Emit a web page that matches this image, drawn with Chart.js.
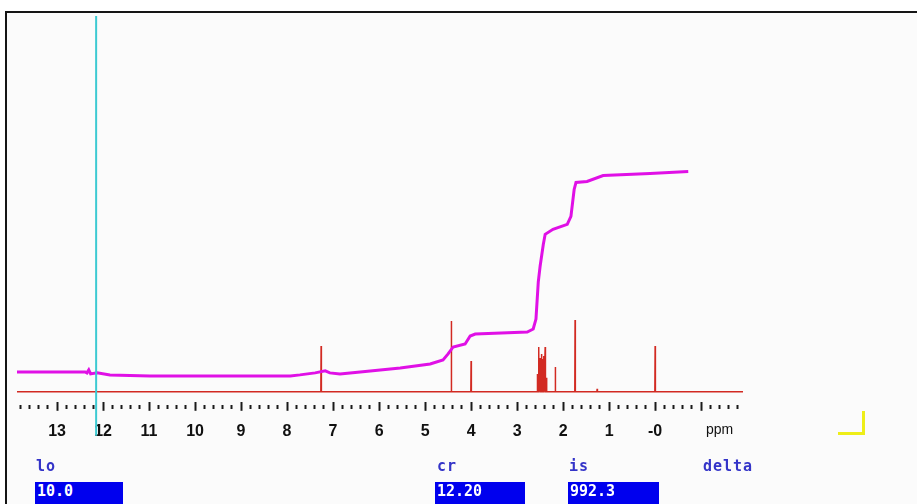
<!DOCTYPE html>
<html lang="en">

<head>
  <meta charset="UTF-8">
  <title>1H NMR spectrum</title>
  <style>
    body {
      margin: 0;
      background: #ffffff;
      width: 917px;
      height: 504px;
      overflow: hidden;
      position: relative;
      font-family: "DejaVu Sans Mono", monospace;
    }

    .frame {
      position: absolute;
      left: 5px;
      top: 11px;
      width: 930px;
      height: 510px;
      border-top: 2px solid #151515;
      border-left: 2px solid #151515;
      background: #fbfbfb;
    }

    #spectrum {
      position: absolute;
      left: 0;
      top: 0;
    }

    .param {
      position: absolute;
      top: 457px;
      color: #3434c8;
      font-weight: bold;
      font-size: 15px;
      letter-spacing: 1px;
    }

    .field {
      position: absolute;
      top: 482px;
      height: 22px;
      background: #0000ee;
      color: #ffffff;
      font-weight: bold;
      font-size: 15px;
      line-height: 19px;
      padding-left: 2px;
      box-sizing: border-box;
    }

    .corner {
      position: absolute;
      left: 838px;
      top: 411px;
      width: 24px;
      height: 21px;
      border-right: 3px solid #eeee18;
      border-bottom: 3px solid #eeee18;
    }
  </style>
  <script src="https://cdn.jsdelivr.net/npm/chart.js"></script>
</head>

<body>
  <div class="frame"></div>
  <canvas id="spectrum" width="917" height="504"></canvas>

  <div class="corner"></div>

  <div class="param" style="left: 36px;">lo</div>
  <div class="field" style="left: 35px; width: 88px;">10.0</div>
  <div class="param" style="left: 437px;">cr</div>
  <div class="field" style="left: 435px; width: 90px;">12.20</div>
  <div class="param" style="left: 569px;">is</div>
  <div class="field" style="left: 568px; width: 91px;">992.3</div>
  <div class="param" style="left: 703px;">delta</div>

  <script>
    // spectral window (ppm)
    const ppmMax = 13.87;
    const ppmMin = -1.91;

    // peak positions (ppm) and heights (arbitrary units)
    const peakShifts = [7.26, 4.43, 4.00, 2.56, 2.53, 2.50, 2.47, 2.45, 2.42, 2.39, 2.36, 2.17, 1.74, 1.26, 0.00];
    const peakHeights = [46, 71, 31, 18, 45, 34, 38, 33, 36, 45, 14, 25, 72, 3, 46];

    // integral trace
    const integralShifts = [13.87, 12.39, 12.35, 12.31, 12.27, 12.13, 11.85, 10.98, 9.46, 7.93, 7.72, 7.39, 7.17, 7.07,
      6.85, 6.41, 5.54, 4.89, 4.61, 4.50, 4.39, 4.13, 4.02, 3.91, 2.78, 2.65, 2.59, 2.54, 2.50, 2.43, 2.39, 2.22, 1.91,
      1.83, 1.76, 1.72, 1.48, 1.13, 0.11, -0.72];
    const integralValues = [20, 20, 19, 22, 18, 19, 17, 16, 16, 16, 17, 19, 21, 19,
      18, 20, 24, 28, 32, 38, 45, 48, 56, 58, 60, 63, 73, 110, 126, 148, 158, 163, 168,
      176, 203, 210, 211, 217, 219, 221];

    // cursor line
    const cursorShift = 12.15;

    // axis labels: integer ppm from 13 down to 0, unit text after them
    const labelledMax = 13;
    const labelledMin = 0;
    const axisUnit = 'ppm';
    const unitPosition = -1.4;

    const isWhole = v => Math.abs(v - Math.round(v)) < 1e-6;

    // build stick spectrum: baseline with a narrow line for each peak
    const peaks = peakShifts.map((p, i) => ({ p, h: peakHeights[i] })).sort((a, b) => b.p - a.p);
    const spectrumData = [{ x: ppmMax, y: 0 }];
    peaks.forEach(({ p, h }) => {
      spectrumData.push({ x: p + 0.006, y: 0 }, { x: p, y: h }, { x: p - 0.006, y: 0 });
    });
    spectrumData.push({ x: ppmMin, y: 0 });

    const integralData = integralShifts.map((x, i) => ({ x, y: integralValues[i] }));

    new Chart(document.getElementById('spectrum'), {
      type: 'scatter',
      data: {
        datasets: [{
          label: 'cursor',
          data: [{ x: cursorShift, y: 377 }, { x: cursorShift, y: -44 }],
          borderColor: '#3ccad2',
          borderWidth: 2,
          showLine: true,
          pointRadius: 0,
          clip: false,
          order: 0
        }, {
          label: 'integral',
          data: integralData,
          borderColor: '#e010e6',
          borderWidth: 3,
          showLine: true,
          pointRadius: 0,
          tension: 0,
          order: 1
        }, {
          label: 'spectrum',
          data: spectrumData,
          borderColor: '#d22a22',
          borderWidth: 1.5,
          showLine: true,
          pointRadius: 0,
          tension: 0,
          order: 2
        }]
      },
      options: {
        responsive: false,
        animation: false,
        layout: { padding: { left: 17, right: 174, top: 14, bottom: 52 } },
        plugins: {
          legend: { display: false },
          tooltip: { enabled: false }
        },
        scales: {
          x: {
            type: 'linear',
            reverse: true,
            min: ppmMin,
            max: ppmMax,
            border: { display: false },
            grid: {
              drawOnChartArea: false,
              tickLength: 9,
              tickColor: '#1a1a1a',
              tickWidth: 2,
              tickBorderDash: ctx => isWhole(ctx.tick.value) ? [] : [0, 3, 4, 20]
            },
            ticks: {
              stepSize: 0.2,
              autoSkip: false,
              maxRotation: 0,
              includeBounds: false,
              padding: 11,
              color: '#111111',
              font: ctx => (ctx.tick && Math.abs(ctx.tick.value - unitPosition) < 1e-6)
                ? { family: 'Liberation Sans', size: 14, weight: 'normal' }
                : { family: 'Liberation Sans', size: 16, weight: 'bold' },
              callback: v => {
                if (Math.abs(v - unitPosition) < 1e-6) return axisUnit;
                if (!isWhole(v)) return '';
                const n = Math.round(v);
                if (n > labelledMax || n < labelledMin) return '';
                return n === 0 ? '-0' : String(n);
              }
            }
          },
          y: {
            display: false,
            min: -10,
            max: 379
          }
        }
      }
    });
  </script>
</body>

</html>
